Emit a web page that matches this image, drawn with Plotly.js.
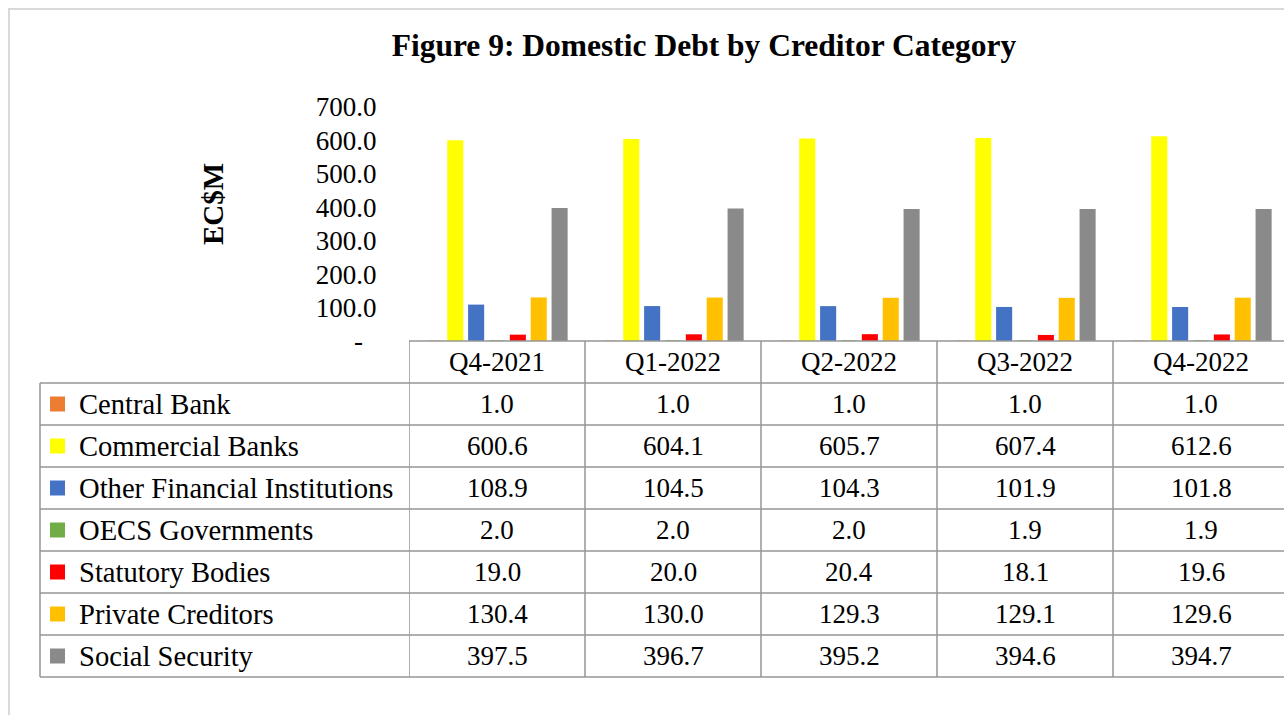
<!DOCTYPE html>
<html><head><meta charset="utf-8">
<script src="https://cdn.plot.ly/plotly-3.0.1.min.js"></script>
<style>html,body{margin:0;padding:0;overflow:hidden;background:#fff}#chart{width:1300px;height:715px}</style>
</head><body><div id="chart"></div>
<script>
const quarters = ["Q4-2021","Q1-2022","Q2-2022","Q3-2022","Q4-2022"];
const seriesNames = ["Central Bank","Commercial Banks","Other Financial Institutions","OECS Governments","Statutory Bodies","Private Creditors","Social Security"];
const centralBank = [1.0,1.0,1.0,1.0,1.0];
const commercialBanks = [600.6,604.1,605.7,607.4,612.6];
const otherFinancialInstitutions = [108.9,104.5,104.3,101.9,101.8];
const oecsGovernments = [2.0,2.0,2.0,1.9,1.9];
const statutoryBodies = [19.0,20.0,20.4,18.1,19.6];
const privateCreditors = [130.4,130.0,129.3,129.1,129.6];
const socialSecurity = [397.5,396.7,395.2,394.6,394.7];
const yTickValues = [0,100,200,300,400,500,600,700];
const yTickLabels = ["-\u00a0\u00a0","100.0","200.0","300.0","400.0","500.0","600.0","700.0"];

const seriesValues = [centralBank,commercialBanks,otherFinancialInstitutions,oecsGovernments,statutoryBodies,privateCreditors,socialSecurity];
const seriesColors = ["#ED7D31","#FFFF00","#4472C4","#70AD47","#FF0000","#FFC000","#8A8A8A"];

// geometry (pixels)
const W=1300,H=715,ML=409,MR=11,MT=107,MB=374;
const PW=W-ML-MR, PH=H-MT-MB, BOT=H-MB;
const px=x=>(x-ML)/PW, py=y=>(BOT-y)/PH;
const FONT="Liberation Serif, Times New Roman, serif";
const LINE="#969696";
const ROW0=383, ROWH=42;

const traces = seriesNames.map((n,i)=>({
  type:"bar", name:n, x:quarters, y:seriesValues[i],
  marker:{color:seriesColors[i], line:{width:0}}, hoverinfo:"name+y"
}));

const shapes=[];
const annotations=[];
// outer frame
shapes.push({type:"rect",xref:"paper",yref:"paper",x0:px(9),x1:px(1500),y0:py(9),y1:py(900),line:{color:"#d9d9d9",width:2}});
// header top line (axis line)
shapes.push({type:"line",xref:"paper",yref:"paper",x0:0,x1:1,y0:py(341),y1:py(341),line:{color:LINE,width:1.5}});
// row lines
for(let k=0;k<=seriesNames.length;k++){
  const y=ROW0+ROWH*k;
  shapes.push({type:"line",xref:"paper",yref:"paper",x0:px(40),x1:1,y0:py(y),y1:py(y),line:{color:LINE,width:1.5}});
}
const tableBottom=ROW0+ROWH*seriesNames.length;
// left border
shapes.push({type:"line",xref:"paper",yref:"paper",x0:px(40),x1:px(40),y0:py(ROW0),y1:py(tableBottom),line:{color:LINE,width:1.5}});
// column boundaries
for(let k=0;k<=quarters.length;k++){
  shapes.push({type:"line",xref:"x",yref:"paper",x0:k-0.5,x1:k-0.5,y0:py(341),y1:py(tableBottom),line:{color:LINE,width:1.5}});
}
// header labels
quarters.forEach(q=>annotations.push({xref:"x",yref:"paper",x:q,y:py(362),text:q,showarrow:false,xanchor:"center",yanchor:"middle",font:{family:FONT,size:27,color:"#000"}}));
// rows
seriesNames.forEach((n,i)=>{
  const yc=ROW0+ROWH*i+ROWH/2;
  shapes.push({type:"rect",xref:"paper",yref:"paper",x0:px(50),x1:px(65),y0:py(yc-7.5),y1:py(yc+7.5),fillcolor:seriesColors[i],line:{width:0}});
  annotations.push({xref:"paper",yref:"paper",x:px(77),y:py(yc),text:n,showarrow:false,xanchor:"left",yanchor:"middle",font:{family:FONT,size:28.6,color:"#000"}});
  quarters.forEach((q,j)=>annotations.push({xref:"x",yref:"paper",x:q,y:py(yc),text:seriesValues[i][j].toFixed(1),showarrow:false,xanchor:"center",yanchor:"middle",font:{family:FONT,size:27,color:"#000"}}));
});
// y axis title
annotations.push({xref:"paper",yref:"paper",x:px(213),y:py(204),text:"<b>EC$M</b>",textangle:-90,showarrow:false,xanchor:"center",yanchor:"middle",font:{family:FONT,size:29,color:"#000"}});

const layout={
  width:W,height:H,
  margin:{l:ML,r:MR,t:MT,b:MB,pad:0},
  paper_bgcolor:"#fff",plot_bgcolor:"rgba(0,0,0,0)",
  title:{text:"<b>Figure 9: Domestic Debt by Creditor Category</b>",xref:"container",yref:"container",x:704/W,y:1-45/H,xanchor:"center",yanchor:"middle",font:{family:FONT,size:31.5,color:"#000"}},
  barmode:"group",bargap:0.17,bargroupgap:0.23,
  showlegend:false,
  xaxis:{type:"category",range:[-0.5,4.5],showticklabels:false,showgrid:false,zeroline:false,showline:false,ticks:"",fixedrange:true},
  yaxis:{range:[0,700],tickvals:yTickValues,ticktext:yTickLabels,showgrid:false,zeroline:false,showline:false,ticks:"outside",ticklen:26,tickcolor:"rgba(0,0,0,0)",tickfont:{family:FONT,size:27,color:"#000"},fixedrange:true},
  shapes:shapes,annotations:annotations
};
Plotly.newPlot("chart",traces,layout,{displayModeBar:false,staticPlot:true});
</script></body></html>
